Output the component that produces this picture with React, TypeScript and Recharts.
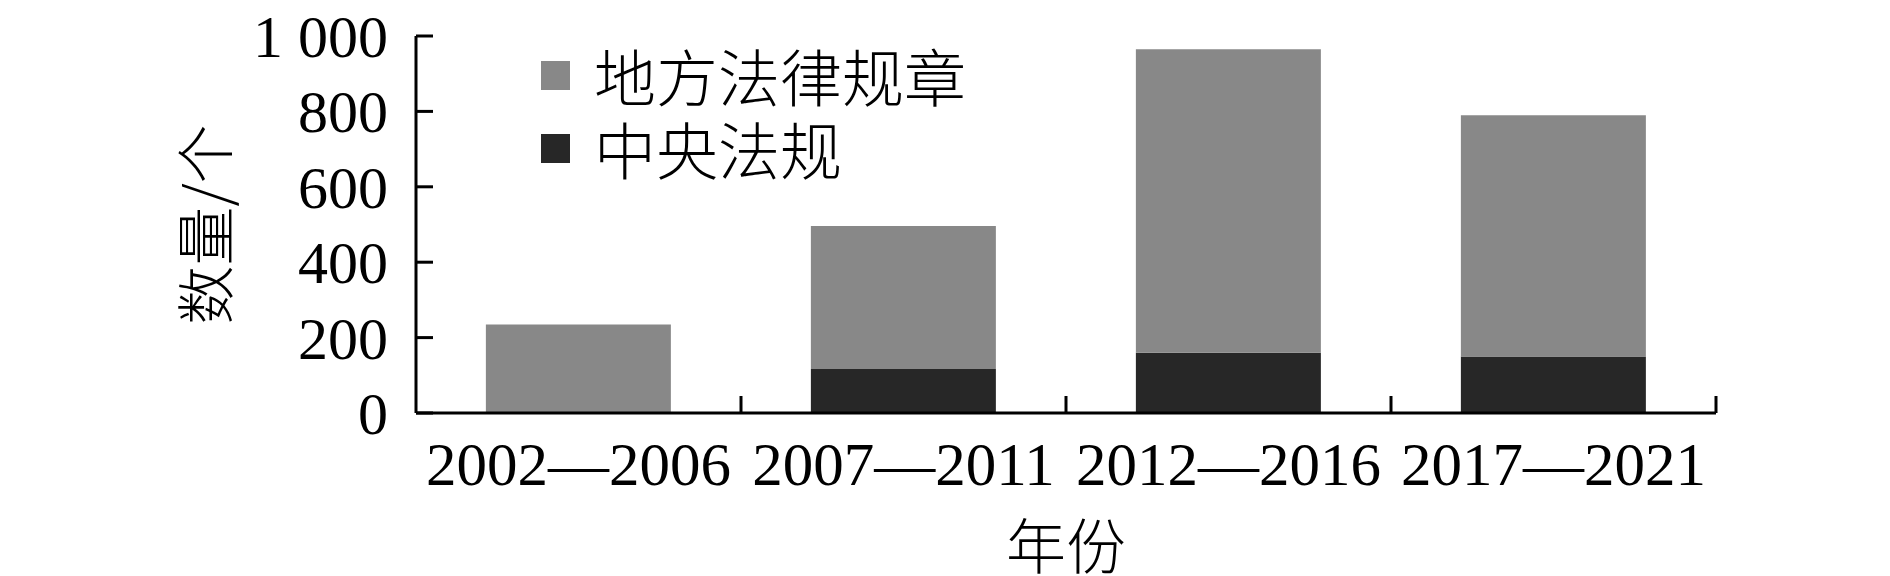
import React from 'react';
import { BarChart, Bar, XAxis, YAxis, Legend } from 'recharts';

const periods = ['2002—2006', '2007—2011', '2012—2016', '2017—2021'];
const centralRegs = [0, 117, 160, 150];
const localRegs = [235, 379, 805, 640];
const yTicks = [0, 200, 400, 600, 800, 1000];
const centralName = '中央法规';
const localName = '地方法律规章';
const xTitle = '年份';
const yTitle = '数量/个';

const data = periods.map((p, i) => ({ period: p, central: centralRegs[i], local: localRegs[i] }));

const SERIF = '"Liberation Serif", "Times New Roman", serif';
const CJK = '"Noto Sans CJK SC", "Noto Sans", sans-serif';
const GRAY = '#888888';
const DARK = '#272727';

const fmtY = (v: number) =>
  v >= 1000 ? `${Math.floor(v / 1000)} ${String(v % 1000).padStart(3, '0')}` : String(v);

const Y_MARGIN = 28;
const X_MARGIN = 29;
const TICK_LEN = 17;

const YTick = (props: any) => {
  const { x, y, payload } = props;
  const axisX = x + Y_MARGIN;
  return (
    <g>
      <line x1={axisX} x2={axisX + TICK_LEN} y1={y} y2={y} stroke="#000" strokeWidth={3} />
      <text x={x} y={y} dy="0.35em" textAnchor="end" fontFamily={SERIF} fontSize={60} fill="#000">
        {fmtY(payload.value)}
      </text>
    </g>
  );
};

const XTick = (props: any) => {
  const { x, y, payload } = props;
  const axisY = y - X_MARGIN;
  const half =
    payload && typeof payload.offset === 'number' && payload.offset > 0
      ? payload.offset
      : props.width / (props.visibleTicksCount || 4) / 2;
  return (
    <g>
      <line x1={x + half} x2={x + half} y1={axisY} y2={axisY - TICK_LEN} stroke="#000" strokeWidth={3} />
      <text x={x} y={y} dy="0.71em" textAnchor="middle" fontFamily={SERIF} fontSize={61} fill="#000">
        {payload.value}
      </text>
    </g>
  );
};

const XLabel = (props: any) => {
  const vb = props.viewBox || {};
  return (
    <text
      x={vb.x + vb.width / 2}
      y={vb.y + 129}
      textAnchor="middle"
      dominantBaseline="central"
      fontFamily={CJK}
      fontWeight={300}
      fontSize={60}
      fill="#000"
    >
      {xTitle}
    </text>
  );
};

const YLabel = (props: any) => {
  const vb = props.viewBox || {};
  const cx = vb.x + 194;
  const cy = vb.y + vb.height / 2;
  return (
    <text
      x={cx}
      y={cy}
      transform={`rotate(-90, ${cx}, ${cy})`}
      textAnchor="middle"
      dominantBaseline="central"
      fontFamily={CJK}
      fontWeight={300}
      fontSize={59}
      fill="#000"
    >
      {yTitle}
    </text>
  );
};

const LegendContent = (props: any) => {
  const items = [...(props.payload || [])].reverse();
  return (
    <div>
      {items.map((it: any) => (
        <div key={it.value} style={{ display: 'flex', alignItems: 'center', height: 73 }}>
          <div style={{ width: 29, height: 29, background: it.color, marginRight: 24 }} />
          <span
            style={{
              fontFamily: CJK,
              fontWeight: 300,
              fontSize: 62,
              lineHeight: '73px',
              color: '#000',
              whiteSpace: 'nowrap',
            }}
          >
            {it.value}
          </span>
        </div>
      ))}
    </div>
  );
};

export default function App() {
  return (
    <BarChart
      width={1882}
      height={568}
      data={data}
      margin={{ top: 28, right: 174, left: 0, bottom: 0 }}
      barCategoryGap="21.5%"
    >
      <XAxis
        dataKey="period"
        interval={0}
        height={163}
        axisLine={{ stroke: '#000', strokeWidth: 3 }}
        tickLine={false}
        tickSize={0}
        tickMargin={X_MARGIN}
        tick={<XTick />}
        label={<XLabel />}
      />
      <YAxis
        domain={[0, 1000]}
        ticks={yTicks}
        interval={0}
        width={408}
        axisLine={{ stroke: '#000', strokeWidth: 3 }}
        tickLine={false}
        tickSize={0}
        tickMargin={Y_MARGIN}
        tick={<YTick />}
        label={<YLabel />}
      />
      <Legend
        layout="vertical"
        align="center"
        verticalAlign="middle"
        content={<LegendContent />}
        wrapperStyle={{ top: 31, left: 533, width: 'auto' }}
      />
      <Bar dataKey="central" name={centralName} stackId="a" fill={DARK} isAnimationActive={false} />
      <Bar dataKey="local" name={localName} stackId="a" fill={GRAY} isAnimationActive={false} />
    </BarChart>
  );
}
